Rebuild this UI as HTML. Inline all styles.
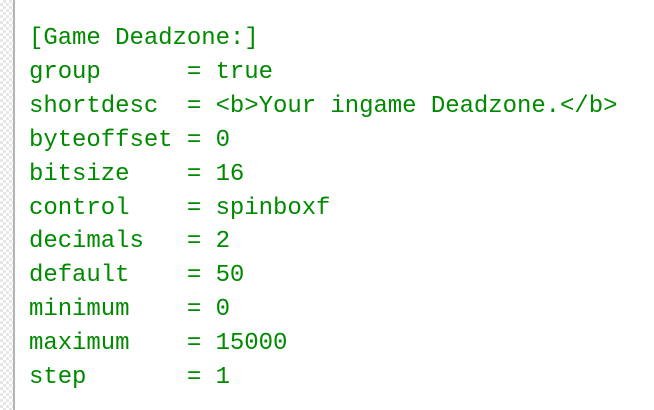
<!DOCTYPE html>
<html><head><meta charset="utf-8"><style>
html,body{margin:0;padding:0;width:654px;height:410px;overflow:hidden;background:#fff}
.strip{position:absolute;left:0;top:0;width:13px;height:410px;
background-color:#fff;
background-image:linear-gradient(45deg,#e6e6e6 25%,transparent 25%,transparent 75%,#e6e6e6 75%),linear-gradient(45deg,#e6e6e6 25%,transparent 25%,transparent 75%,#e6e6e6 75%);
background-size:6px 6px;background-position:0 0,3px 3px}
.line{position:absolute;left:13px;top:0;width:2px;height:410px;background:#b4b4b4}
pre{position:absolute;left:29px;top:22px;margin:0;font-family:"Liberation Mono",monospace;font-size:24px;line-height:33.9px;color:#008a00;letter-spacing:-0.05px}
</style></head><body>
<div class="strip"></div><div class="line"></div>
<pre>[Game Deadzone:]
group      = true
shortdesc  = &lt;b&gt;Your ingame Deadzone.&lt;/b&gt;
byteoffset = 0
bitsize    = 16
control    = spinboxf
decimals   = 2
default    = 50
minimum    = 0
maximum    = 15000
step       = 1</pre>
</body></html>
